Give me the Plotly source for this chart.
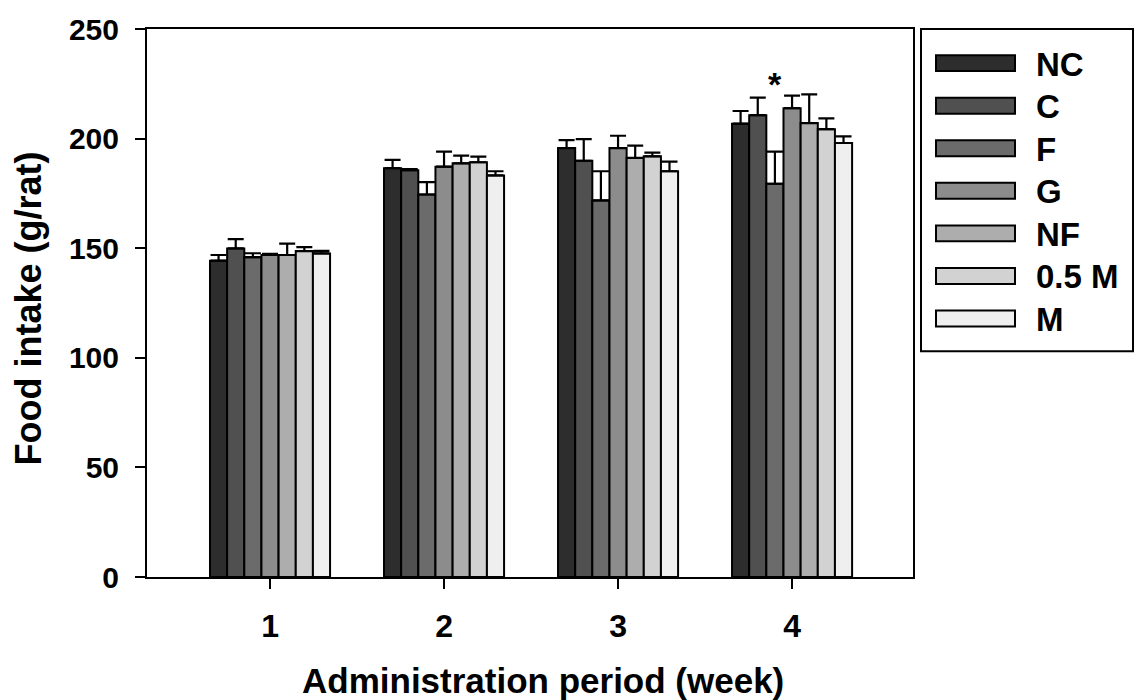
import plotly.graph_objects as go

# Weekly food intake per group (mean and upper error)
weeks = [1, 2, 3, 4]
week_labels = ["1", "2", "3", "4"]
groups = ["NC", "C", "F", "G", "NF", "0.5 M", "M"]

nc = [144.3, 186.5, 195.7, 206.8]
c = [149.9, 185.6, 189.9, 210.7]
f = [145.9, 174.5, 171.8, 179.4]
g = [146.9, 187.2, 195.7, 213.9]
nf = [146.9, 188.7, 191.2, 207.1]
m05 = [148.7, 189.2, 191.9, 204.3]
m = [147.6, 183.2, 185.1, 198.0]

nc_err = [2.6, 3.8, 3.6, 5.8]
c_err = [4.2, 0.5, 9.9, 8.0]
f_err = [1.8, 5.6, 13.3, 14.7]
g_err = [0.5, 6.9, 5.6, 5.7]
nf_err = [5.2, 3.5, 5.6, 13.1]
m05_err = [1.8, 2.6, 1.7, 4.9]
m_err = [1.2, 1.9, 4.4, 3.0]

# significance marker: (week, group)
sig_week = 4
sig_group = "F"

values = [nc, c, f, g, nf, m05, m]
errors = [nc_err, c_err, f_err, g_err, nf_err, m05_err, m_err]
fills = ["#2d2d2d", "#505050", "#6b6b6b", "#8c8c8c", "#adadad", "#d2d2d2", "#efefef"]

FONT = "Liberation Sans, Arial, sans-serif"

# plot area in pixels
W, H = 1135, 700
L, R, T, B = 147, 913, 26, 577
BARGAP = 0.31


def px_x(px):
    return (px - L) / (R - L)


def px_y(py):
    return (B - py) / (B - T)


fig = go.Figure()
for name, vals, errs, col in zip(groups, values, errors, fills):
    fig.add_trace(go.Bar(
        x=weeks, y=vals, name=name,
        marker=dict(color=col, line=dict(color="black", width=2)),
        error_y=dict(type="data", array=errs, arrayminus=[0] * len(errs),
                     symmetric=False, color="black", thickness=2.2, width=8),
        showlegend=False,
    ))

# asterisk above the significant bar
n = len(groups)
bar_w = (1 - BARGAP) / n
gi = groups.index(sig_group)
wi = weeks.index(sig_week)
sig_x = sig_week + (gi - (n - 1) / 2) * bar_w
sig_y = values[gi][wi] + errors[gi][wi] + 31
annotations = [dict(x=sig_x, y=sig_y, xref="x", yref="y", text="<b>*</b>",
                    showarrow=False, font=dict(family=FONT, size=34, color="black"))]

# axis titles
annotations.append(dict(x=px_x(543), y=0, xref="paper", yref="paper",
                        text="<b>Administration period (week)</b>", showarrow=False,
                        xanchor="center", yanchor="bottom", yshift=-(H - B) - 2,
                        font=dict(family=FONT, size=35, color="black")))
annotations.append(dict(x=px_x(28), y=px_y(307), xref="paper", yref="paper",
                        text="<b>Food intake (g/rat)</b>", showarrow=False, textangle=-90,
                        xanchor="center", yanchor="middle",
                        font=dict(family=FONT, size=36, color="black")))

# legend drawn as a framed box with wide swatches
shapes = [dict(type="rect", xref="paper", yref="paper",
               x0=px_x(921), x1=px_x(1133), y0=px_y(350), y1=px_y(26),
               line=dict(color="black", width=2), fillcolor="white", layer="below")]
row0, step = 60.3, 42.8
for i, (name, col) in enumerate(zip(groups, fills)):
    cy = row0 + i * step
    shapes.append(dict(type="rect", xref="paper", yref="paper",
                       x0=px_x(936), x1=px_x(1015), y0=px_y(cy + 8), y1=px_y(cy - 8),
                       line=dict(color="black", width=2), fillcolor=col))
    annotations.append(dict(x=px_x(1034), y=px_y(cy + 1), xref="paper", yref="paper",
                            text=f"<b>{name}</b>", showarrow=False,
                            xanchor="left", yanchor="middle",
                            font=dict(family=FONT, size=33, color="black")))

fig.update_layout(
    width=W, height=H,
    margin=dict(l=L, r=W - R, t=T, b=H - B),
    paper_bgcolor="white", plot_bgcolor="white",
    barmode="group", bargap=BARGAP, bargroupgap=0,
    font=dict(family=FONT, color="black"),
    annotations=annotations, shapes=shapes,
    showlegend=False,
)
fig.update_xaxes(
    range=[0.293, 4.695], tickmode="array", tickvals=weeks, ticktext=[f"<b>{t}</b>" for t in week_labels],
    showline=True, linecolor="black", linewidth=2, mirror=True,
    ticks="outside", ticklen=10, tickwidth=2, tickcolor="black",
    tickfont=dict(family=FONT, size=32, color="black"), ticklabelstandoff=10,
    showgrid=False, zeroline=False,
)
fig.update_yaxes(
    range=[0, 250], tickvals=[0, 50, 100, 150, 200, 250],
    ticktext=["<b>0</b>", "<b>50</b>", "<b>100</b>", "<b>150</b>", "<b>200</b>", "<b>250</b>"],
    showline=True, linecolor="black", linewidth=2, mirror=True,
    ticks="outside", ticklen=10, tickwidth=2, tickcolor="black",
    tickfont=dict(family=FONT, size=30, color="black"), ticklabelstandoff=10,
    showgrid=False, zeroline=False,
)

fig.write_html("out.html")
